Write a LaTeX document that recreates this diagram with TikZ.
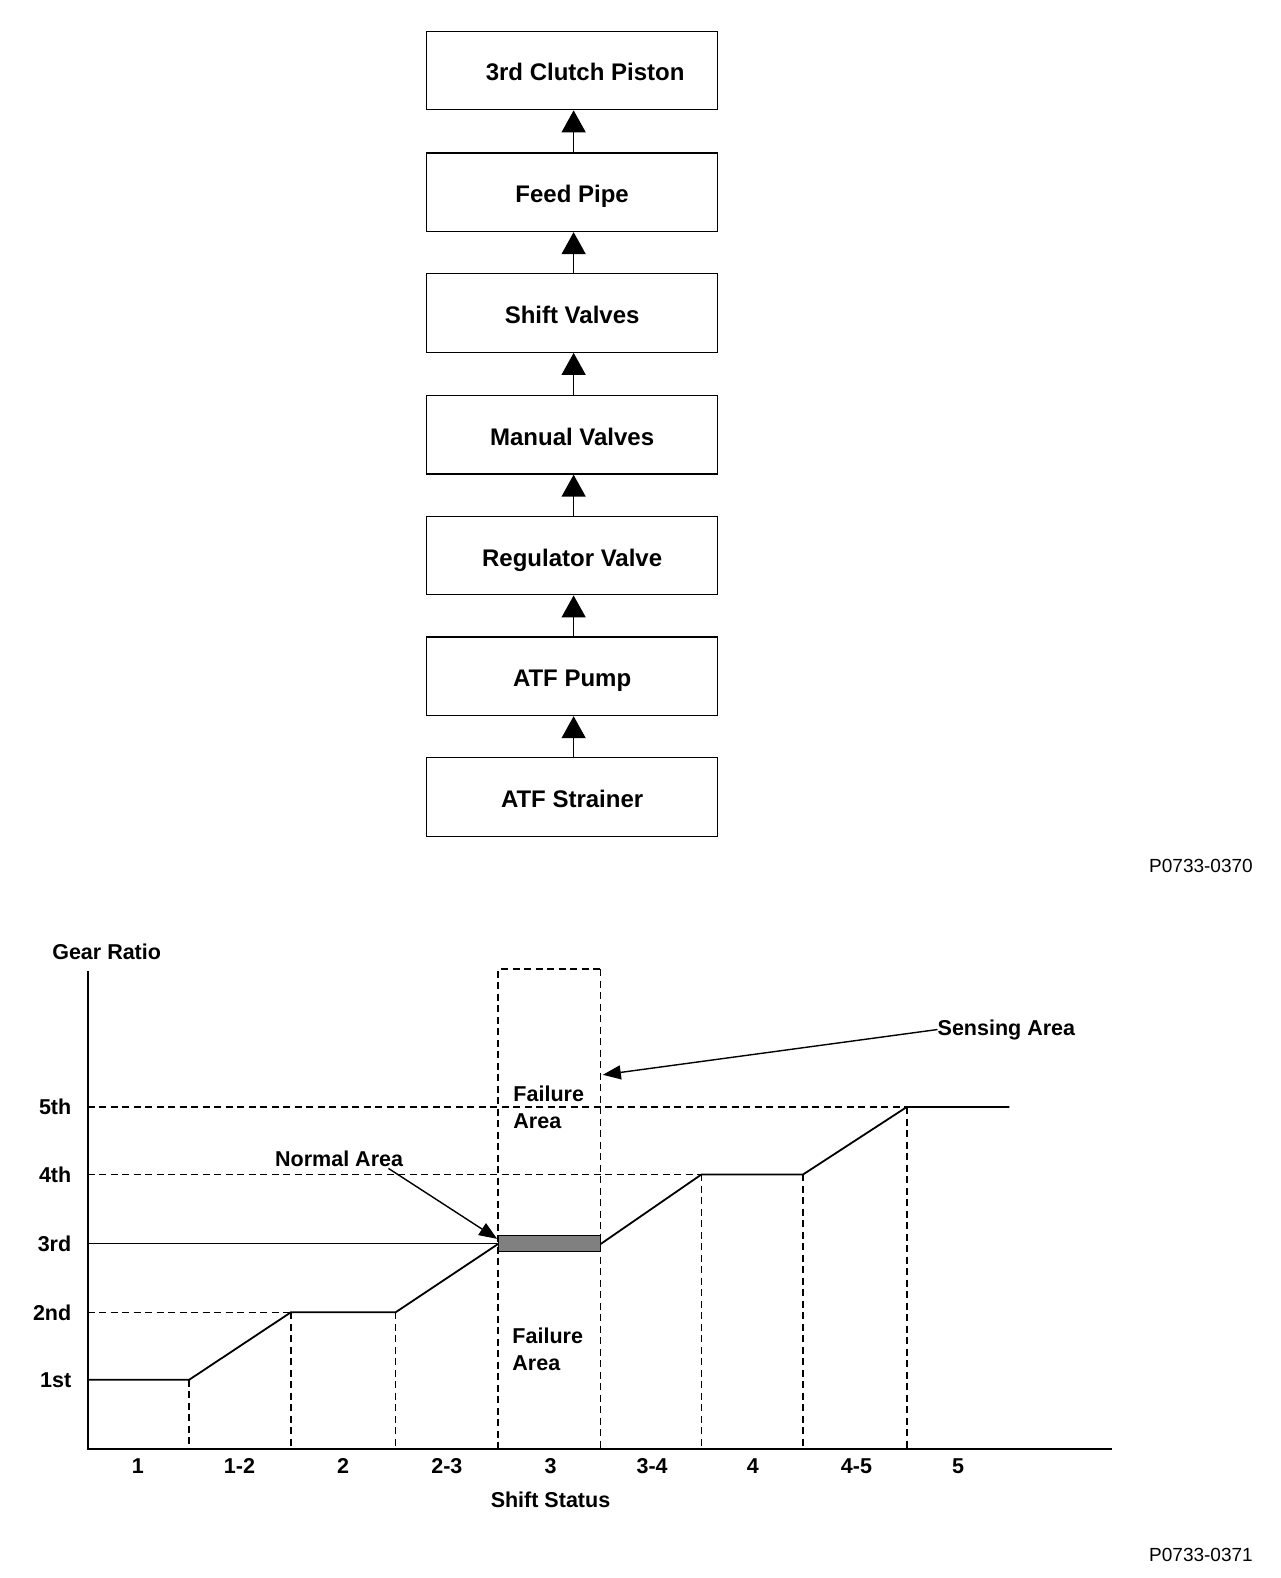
\documentclass[tikz,border=0pt]{standalone}
\usepackage{fontspec}
\setmainfont{Liberation Sans}
\usetikzlibrary{arrows.meta}
\begin{document}
\begin{tikzpicture}[x=1.00629pt,y=-1.00629pt,
  stepbox/.style={draw,line width=1.3pt,minimum width=290.8pt,minimum height=78.5pt,inner sep=0pt,
    text height=21pt,text depth=0pt,
    font=\bfseries\fontsize{24}{28}\selectfont},
  flow/.style={-{Triangle[length=22pt,width=24pt]},line width=1.4pt},
  lbl/.style={font=\bfseries\fontsize{21.5}{26}\selectfont,inner sep=0pt},
  code/.style={font=\fontsize{19}{22}\selectfont,inner sep=0pt,anchor=east},
  curve/.style={line width=1.8pt,line join=miter},
  dthick/.style={line width=1.5pt,dash pattern=on 7pt off 4.5pt},
  dthin/.style={line width=0.9pt,dash pattern=on 7pt off 4.5pt},
  axis/.style={line width=2pt},
  note/.style={-{Triangle[length=18pt,width=14pt]},line width=1.4pt}]
\useasboundingbox (0,0) rectangle (1272,1568);
% flow chain
\node[stepbox] (b7) at (568.5,70) {\hspace*{26pt}3rd Clutch Piston};
\node[stepbox] (b6) at (568.5,191) {Feed Pipe};
\node[stepbox] (b5) at (568.5,311) {Shift Valves};
\node[stepbox] (b4) at (568.5,432) {Manual Valves};
\node[stepbox] (b3) at (568.5,552) {Regulator Valve};
\node[stepbox] (b2) at (568.5,672) {ATF Pump};
\node[stepbox] (b1) at (568.5,792) {ATF Strainer};
\foreach \a/\b in {b1/b2,b2/b3,b3/b4,b4/b5,b5/b6,b6/b7}
  \draw[flow] ([xshift=1.5pt]\a.north) -- ([xshift=1.5pt]\b.south);
\node[code] (c1) at (1245,860) {P0733-0370};
\node[code] (c2) at (1245,1545) {P0733-0371};
% chart
\node[lbl] (gr) at (106,946) {Gear Ratio};
\coordinate (otop) at (87,965);
\coordinate (o) at (87,1440);
\coordinate (xend) at (1105,1440);
% level guides
\draw[dthin] (87,1304) -- (289,1304);
\draw[line width=1pt] (87,1236) -- (495,1236);
\draw[dthin] (87,1167) -- (697,1167);
\draw[dthick] (87,1100) -- (901,1100);
% verticals
\draw[dthick] (188,1371) -- (188,1440);
\draw[dthick] (289,1304) -- (289,1440);
\draw[dthick] (393,1304) -- (393,1440);
\draw[dthick] (495,1440) -- (495,963) -- (597,963);
\draw[dthin] (597,963) -- (597,1440);
\draw[dthin] (697,1167) -- (697,1440);
\draw[dthick] (798,1167) -- (798,1440);
\draw[dthick] (901,1100) -- (901,1440);
% shaded normal band
\draw[line width=0.8pt,fill=black!50] (495,1228) rectangle (597,1243);
% curve
\draw[curve] (87,1371) -- (188,1371) -- (289,1304) -- (393,1304) -- (495,1236);
\draw[curve] (597,1236) -- (697,1167) -- (798,1167) -- (901,1100) -- (1003,1100);
% axes
\draw[axis] (otop) -- (o) -- (xend);
% level labels
\node[lbl,anchor=east] (l5) at (71,1100) {5th};
\node[lbl,anchor=east] (l4) at (71,1167) {4th};
\node[lbl,anchor=east] (l3) at (71,1236) {3rd};
\node[lbl,anchor=east] (l2) at (71,1304) {2nd};
\node[lbl,anchor=east] (l1) at (71,1371) {1st};
% category labels
\foreach \t/\x [count=\i] in {1/137,1-2/238,2/341,2-3/444,3/547,3-4/648,4/748,4-5/851,5/952}
  \node[lbl] (s\i) at (\x,1457) {\t};
\node[lbl] (ss) at (547,1490) {Shift Status};
% failure areas
\node[lbl,anchor=west,align=left] (fa1) at (510,1100) {Failure\\[1pt]Area};
\node[lbl,anchor=west,align=left] (fa2) at (509,1341) {Failure\\[1pt]Area};
% annotations
\node[lbl] (sens) at (1000,1023) {Sensing Area};
\coordinate (senstip) at (599,1068);
\draw[note] (sens.west) -- (senstip);
\node[lbl] (norm) at (337,1151) {Normal Area};
\coordinate (normtail) at (386,1161);
\coordinate (normtip) at (494,1231);
\draw[note] (normtail) -- (normtip);
\end{tikzpicture}
\end{document}
